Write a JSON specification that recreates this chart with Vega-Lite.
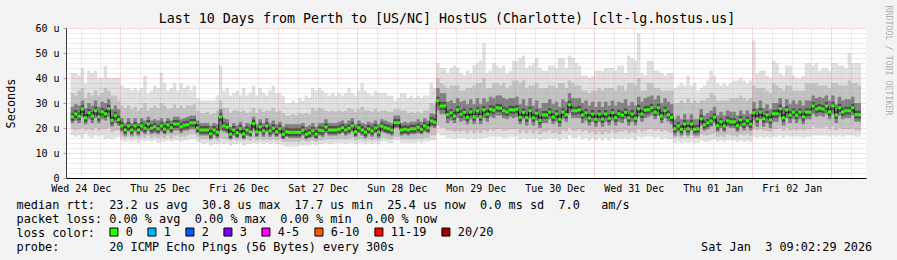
{
  "$schema": "https://vega.github.io/schema/vega-lite/v6.json",
  "width": 800,
  "height": 150,
  "autosize": {"type": "none"},
  "padding": {"left": 66, "top": 28, "right": 31, "bottom": 82},
  "background": "#f3f3f3",
  "title": {
    "text": "Last 10 Days from Perth to [US/NC] HostUS (Charlotte) [clt-lg.hostus.us]",
    "font": "DejaVu Sans Mono", "fontSize": 13.3, "fontWeight": "normal", "color": "#000000",
    "anchor": "middle", "frame": "group", "dx": -19, "dy": 25, "offset": 5
  },
  "config": {
    "view": {"fill": "#ffffff", "stroke": null},
    "axis": {"labelFont": "DejaVu Sans Mono", "titleFont": "DejaVu Sans Mono", "labelColor": "#000000", "titleColor": "#000000", "titleFontWeight": "normal"}
  },
  "data": {"values": [
    {"h":9.5,"m":24.5,"a":17,"b":19.5,"c":22,"d":28.5,"e":34,"f":42},
    {"h":10.5,"m":25.6,"a":16.5,"b":19,"c":23,"d":29.5,"e":33,"f":42},
    {"h":11.5,"m":24.7,"a":17,"b":19.5,"c":22,"d":29,"e":35,"f":41},
    {"h":12.5,"m":27.6,"a":16,"b":20,"c":24.5,"d":31,"e":36,"f":44},
    {"h":13.5,"m":24.1,"a":17.5,"b":19,"c":21.5,"d":28,"e":32,"f":38},
    {"h":14.5,"m":26.1,"a":16.5,"b":19.5,"c":23.5,"d":30,"e":34,"f":43},
    {"h":15.5,"m":24.8,"a":16,"b":19,"c":22,"d":29,"e":33,"f":42},
    {"h":16.5,"m":26.9,"a":17,"b":20,"c":24,"d":31,"e":35,"f":43},
    {"h":17.5,"m":24.5,"a":16.5,"b":19,"c":22,"d":28.5,"e":33,"f":40},
    {"h":18.5,"m":26.5,"a":17,"b":19.5,"c":23.5,"d":30.5,"e":34,"f":40},
    {"h":19.5,"m":25.7,"a":15.5,"b":19.5,"c":23,"d":30,"e":36,"f":45},
    {"h":20.5,"m":27.7,"a":16,"b":20,"c":24.5,"d":31.5,"e":35,"f":40},
    {"h":21.5,"m":23.0,"a":15.5,"b":18.5,"c":20.5,"d":27.5,"e":33,"f":40},
    {"h":22.5,"m":24.9,"a":16,"b":19,"c":22,"d":29,"e":33,"f":40},
    {"h":23.5,"m":23.3,"a":16.5,"b":19,"c":21,"d":27.5,"e":31,"f":40},
    {"h":24.5,"m":20.8,"a":15,"b":16.5,"c":18.5,"d":24,"e":29,"f":37},
    {"h":25.5,"m":19.2,"a":14.5,"b":16,"c":17,"d":22,"e":28,"f":36},
    {"h":26.5,"m":20.8,"a":15,"b":16.5,"c":18.5,"d":24,"e":29,"f":36},
    {"h":27.5,"m":19.2,"a":14.5,"b":16,"c":17,"d":22,"e":27.5,"f":35},
    {"h":28.5,"m":20.8,"a":15,"b":16.5,"c":18.5,"d":24,"e":28.5,"f":36},
    {"h":29.5,"m":19.2,"a":14,"b":16,"c":17,"d":22,"e":27,"f":35},
    {"h":30.5,"m":20.8,"a":15,"b":16.5,"c":18.5,"d":24,"e":28,"f":36},
    {"h":31.5,"m":19.9,"a":14.5,"b":16,"c":17.5,"d":23,"e":30,"f":41},
    {"h":32.5,"m":21.6,"a":15,"b":17,"c":19,"d":24.5,"e":27,"f":34},
    {"h":33.5,"m":19.9,"a":14.5,"b":16,"c":17.5,"d":23,"e":28,"f":35},
    {"h":34.5,"m":20.5,"a":15,"b":16.5,"c":18,"d":23.5,"e":29,"f":37},
    {"h":35.5,"m":19.7,"a":14,"b":16,"c":17.5,"d":23,"e":28,"f":36},
    {"h":36.5,"m":20.8,"a":14.5,"b":16.5,"c":18.5,"d":24,"e":30,"f":42},
    {"h":37.5,"m":19.6,"a":14.5,"b":16,"c":17.5,"d":22.5,"e":29,"f":38},
    {"h":38.5,"m":21.2,"a":15,"b":17,"c":19,"d":24,"e":27.5,"f":35},
    {"h":39.5,"m":20.1,"a":14.5,"b":16,"c":18,"d":23,"e":28,"f":36},
    {"h":40.5,"m":21.6,"a":15,"b":17,"c":19,"d":24.5,"e":29.5,"f":38},
    {"h":41.5,"m":21.6,"a":15,"b":17,"c":19,"d":24.5,"e":28,"f":35},
    {"h":42.5,"m":20.5,"a":14.5,"b":16.5,"c":18,"d":23.5,"e":29,"f":38},
    {"h":43.5,"m":21.1,"a":15,"b":16.5,"c":19,"d":24,"e":28,"f":36},
    {"h":44.5,"m":21.3,"a":15,"b":17,"c":19,"d":24.5,"e":29,"f":37},
    {"h":45.5,"m":22.1,"a":15.5,"b":17.5,"c":19.5,"d":25,"e":29,"f":35},
    {"h":46.5,"m":22.1,"a":15.5,"b":17.5,"c":19.5,"d":25,"e":29.5,"f":37},
    {"h":47.5,"m":20.0,"a":14.5,"b":16.5,"c":18,"d":23,"e":27,"f":32},
    {"h":48.5,"m":19.2,"a":14,"b":15.5,"c":17,"d":22,"e":26,"f":31},
    {"h":49.5,"m":19.2,"a":13.5,"b":15.5,"c":17,"d":22,"e":26,"f":31},
    {"h":50.5,"m":19.2,"a":14,"b":15.5,"c":17,"d":22,"e":26.5,"f":31},
    {"h":51.5,"m":17.7,"a":13,"b":15,"c":15.5,"d":21,"e":25.5,"f":31},
    {"h":52.5,"m":19.2,"a":13.5,"b":15.5,"c":17,"d":22,"e":26,"f":31},
    {"h":53.5,"m":18.4,"a":13.5,"b":15,"c":16,"d":21.5,"e":27,"f":33},
    {"h":54.5,"m":24.5,"a":14,"b":16,"c":19,"d":27.5,"e":31,"f":45},
    {"h":55.5,"m":20.8,"a":13.5,"b":15.5,"c":18.5,"d":24,"e":28,"f":35},
    {"h":56.5,"m":20.3,"a":14,"b":15.5,"c":18,"d":23.5,"e":28,"f":36},
    {"h":57.5,"m":17.5,"a":13,"b":15,"c":15.5,"d":20.5,"e":26,"f":33},
    {"h":58.5,"m":19.2,"a":13.5,"b":15.5,"c":17,"d":22,"e":27,"f":34},
    {"h":59.5,"m":18.1,"a":13.5,"b":15,"c":16,"d":21,"e":27,"f":35},
    {"h":60.5,"m":19.7,"a":14,"b":15.5,"c":17.5,"d":22.5,"e":26.5,"f":33},
    {"h":61.5,"m":17.6,"a":13,"b":15,"c":15.5,"d":20.5,"e":27,"f":36},
    {"h":62.5,"m":19.1,"a":13.5,"b":15.5,"c":17,"d":22,"e":26,"f":33},
    {"h":63.5,"m":18.5,"a":13.5,"b":15,"c":16.5,"d":21.5,"e":26.5,"f":34},
    {"h":64.5,"m":21.7,"a":14,"b":16,"c":19.5,"d":24.5,"e":28,"f":37},
    {"h":65.5,"m":18.5,"a":13.5,"b":15,"c":16.5,"d":21.5,"e":26,"f":33},
    {"h":66.5,"m":20.5,"a":14,"b":15.5,"c":18.5,"d":23.5,"e":27.5,"f":36},
    {"h":67.5,"m":18.9,"a":13.5,"b":15,"c":16.5,"d":22,"e":26.5,"f":34},
    {"h":68.5,"m":20.8,"a":14,"b":15.5,"c":18.5,"d":24,"e":27,"f":33},
    {"h":69.5,"m":18.9,"a":13.5,"b":15,"c":16.5,"d":22,"e":27,"f":35},
    {"h":70.5,"m":19.9,"a":14,"b":15.5,"c":17.5,"d":23,"e":28,"f":37},
    {"h":71.5,"m":18.5,"a":13.5,"b":15,"c":16.5,"d":21.5,"e":26.5,"f":34},
    {"h":72.5,"m":19.7,"a":13.5,"b":15.5,"c":17.5,"d":22.5,"e":27,"f":34},
    {"h":73.5,"m":17.5,"a":13,"b":14.5,"c":15.5,"d":20.5,"e":26,"f":33},
    {"h":74.5,"m":18.5,"a":12.5,"b":14.5,"c":16.5,"d":21.5,"e":25,"f":30},
    {"h":75.5,"m":18.3,"a":12.5,"b":14.5,"c":16,"d":21.5,"e":25,"f":30},
    {"h":76.5,"m":18.3,"a":12.5,"b":14.5,"c":16,"d":21.5,"e":25.5,"f":31},
    {"h":77.5,"m":18.3,"a":12.5,"b":14.5,"c":16,"d":21.5,"e":25,"f":30},
    {"h":78.5,"m":18.3,"a":13,"b":14.5,"c":16,"d":21.5,"e":26,"f":32},
    {"h":79.5,"m":19.1,"a":13,"b":15,"c":17,"d":22,"e":25.5,"f":31},
    {"h":80.5,"m":17.5,"a":13,"b":14.5,"c":15.5,"d":20.5,"e":26,"f":33},
    {"h":81.5,"m":18.0,"a":13,"b":14.5,"c":16,"d":21,"e":25.5,"f":32},
    {"h":82.5,"m":18.9,"a":13.5,"b":15,"c":16.5,"d":22,"e":28,"f":36},
    {"h":83.5,"m":17.6,"a":13,"b":14.5,"c":15.5,"d":20.5,"e":27,"f":35},
    {"h":84.5,"m":19.1,"a":13.5,"b":15,"c":17,"d":22,"e":28,"f":36},
    {"h":85.5,"m":18.9,"a":13.5,"b":15,"c":16.5,"d":22,"e":27.5,"f":35},
    {"h":86.5,"m":20.4,"a":14,"b":15.5,"c":18,"d":23.5,"e":27,"f":34},
    {"h":87.5,"m":19.2,"a":13.5,"b":15.5,"c":17,"d":22,"e":26.5,"f":33},
    {"h":88.5,"m":19.2,"a":13.5,"b":15.5,"c":17,"d":22,"e":27,"f":34},
    {"h":89.5,"m":19.2,"a":14,"b":15.5,"c":17,"d":22,"e":26.5,"f":33},
    {"h":90.5,"m":19.5,"a":14,"b":15.5,"c":17.5,"d":22.5,"e":27,"f":34},
    {"h":91.5,"m":20.1,"a":14,"b":15.5,"c":18,"d":23,"e":26.5,"f":33},
    {"h":92.5,"m":19.2,"a":13.5,"b":15.5,"c":17,"d":22,"e":27,"f":34},
    {"h":93.5,"m":19.9,"a":14,"b":15.5,"c":17.5,"d":23,"e":28,"f":36},
    {"h":94.5,"m":20.8,"a":14,"b":16,"c":18.5,"d":24,"e":27.5,"f":34},
    {"h":95.5,"m":18.5,"a":13.5,"b":15,"c":16.5,"d":21.5,"e":26.5,"f":33},
    {"h":96.5,"m":20.1,"a":14,"b":15.5,"c":18,"d":23,"e":27.5,"f":35},
    {"h":97.5,"m":19.2,"a":14,"b":15.5,"c":17,"d":22,"e":28.5,"f":38},
    {"h":98.5,"m":18.4,"a":13.5,"b":15,"c":16,"d":21.5,"e":27,"f":35},
    {"h":99.5,"m":19.6,"a":14,"b":15.5,"c":17.5,"d":22.5,"e":27,"f":34},
    {"h":100.5,"m":18.9,"a":13.5,"b":15,"c":16.5,"d":22,"e":26.5,"f":33},
    {"h":101.5,"m":20.0,"a":14,"b":15.5,"c":18,"d":23,"e":27.5,"f":35},
    {"h":102.5,"m":18.4,"a":13.5,"b":15,"c":16,"d":21.5,"e":26.5,"f":34},
    {"h":103.5,"m":20.7,"a":14.5,"b":16,"c":18.5,"d":23.5,"e":27,"f":34},
    {"h":104.5,"m":20.1,"a":14.5,"b":16,"c":18,"d":23,"e":27,"f":34},
    {"h":105.5,"m":19.7,"a":14,"b":15.5,"c":17.5,"d":22.5,"e":26.5,"f":33},
    {"h":106.5,"m":19.2,"a":14,"b":15.5,"c":17,"d":22,"e":26.5,"f":33},
    {"h":107.5,"m":22.1,"a":15,"b":16.5,"c":20,"d":25,"e":27.5,"f":31},
    {"h":108.5,"m":22.1,"a":15,"b":16.5,"c":20,"d":25,"e":27.5,"f":32},
    {"h":109.5,"m":19.2,"a":14,"b":15.5,"c":17,"d":22,"e":27,"f":34},
    {"h":110.5,"m":19.5,"a":14,"b":15.5,"c":17.5,"d":22.5,"e":27,"f":34},
    {"h":111.5,"m":19.2,"a":14,"b":15.5,"c":17,"d":22,"e":26,"f":32},
    {"h":112.5,"m":19.7,"a":14,"b":15.5,"c":17.5,"d":22.5,"e":26.5,"f":33},
    {"h":113.5,"m":19.7,"a":14,"b":15.5,"c":17.5,"d":22.5,"e":26,"f":32},
    {"h":114.5,"m":20.3,"a":14.5,"b":16,"c":18,"d":23.5,"e":26.5,"f":33},
    {"h":115.5,"m":19.5,"a":14,"b":15.5,"c":17.5,"d":22.5,"e":26,"f":32},
    {"h":116.5,"m":20.8,"a":14.5,"b":16,"c":18.5,"d":24,"e":27,"f":33},
    {"h":117.5,"m":20.1,"a":14.5,"b":16,"c":18,"d":23,"e":27,"f":33},
    {"h":118.5,"m":22.8,"a":15,"b":17,"c":20.5,"d":26,"e":30,"f":38},
    {"h":119.5,"m":22.4,"a":15,"b":17,"c":20,"d":25.5,"e":29.5,"f":36},
    {"h":120.5,"m":30.9,"a":18,"b":21,"c":27,"d":36,"e":40,"f":46},
    {"h":121.5,"m":28.8,"a":17,"b":20,"c":25.5,"d":34,"e":38,"f":44},
    {"h":122.5,"m":28.8,"a":17,"b":20,"c":25.5,"d":34,"e":37,"f":44},
    {"h":123.5,"m":25.3,"a":16,"b":19,"c":22,"d":30.5,"e":36,"f":42},
    {"h":124.5,"m":26.1,"a":16,"b":19,"c":23,"d":31,"e":37,"f":44},
    {"h":125.5,"m":24.8,"a":15.5,"b":18.5,"c":22,"d":30,"e":37,"f":45},
    {"h":126.5,"m":27.2,"a":16,"b":19,"c":24,"d":32,"e":37,"f":44},
    {"h":127.5,"m":25.5,"a":16,"b":18.5,"c":22.5,"d":30.5,"e":35,"f":42},
    {"h":128.5,"m":26.3,"a":16,"b":19,"c":23,"d":31,"e":35,"f":41},
    {"h":129.5,"m":24.3,"a":15.5,"b":18,"c":21.5,"d":29.5,"e":36,"f":43},
    {"h":130.5,"m":26.5,"a":16,"b":19,"c":23.5,"d":31.5,"e":36,"f":42},
    {"h":131.5,"m":24.5,"a":15.5,"b":18,"c":21.5,"d":29.5,"e":37,"f":45},
    {"h":132.5,"m":26.8,"a":16,"b":19,"c":24,"d":32,"e":38,"f":46},
    {"h":133.5,"m":24.5,"a":15.5,"b":18,"c":21.5,"d":29.5,"e":38,"f":47},
    {"h":134.5,"m":27.2,"a":16,"b":19,"c":24,"d":32,"e":40,"f":54},
    {"h":135.5,"m":25.6,"a":16,"b":18.5,"c":22.5,"d":30.5,"e":36,"f":42},
    {"h":136.5,"m":27.5,"a":16.5,"b":19.5,"c":24.5,"d":32.5,"e":36,"f":43},
    {"h":137.5,"m":27.1,"a":16.5,"b":19,"c":24,"d":32,"e":38,"f":46},
    {"h":138.5,"m":28.1,"a":16.5,"b":19.5,"c":25,"d":33,"e":38,"f":45},
    {"h":139.5,"m":27.9,"a":16.5,"b":19.5,"c":25,"d":33,"e":37,"f":44},
    {"h":140.5,"m":26.9,"a":16,"b":19,"c":24,"d":32,"e":38,"f":45},
    {"h":141.5,"m":26.5,"a":16,"b":19,"c":23.5,"d":31.5,"e":36,"f":42},
    {"h":142.5,"m":27.3,"a":16.5,"b":19.5,"c":24.5,"d":32,"e":37,"f":43},
    {"h":143.5,"m":27.2,"a":16.5,"b":19.5,"c":24,"d":32,"e":39,"f":47},
    {"h":144.5,"m":27.5,"a":16.5,"b":19.5,"c":24.5,"d":32.5,"e":39,"f":47},
    {"h":145.5,"m":24.3,"a":15.5,"b":18,"c":21.5,"d":29.5,"e":38,"f":48},
    {"h":146.5,"m":26.3,"a":16,"b":19,"c":23.5,"d":31.5,"e":39,"f":49},
    {"h":147.5,"m":24.1,"a":15.5,"b":18,"c":21,"d":29,"e":36,"f":44},
    {"h":148.5,"m":26.9,"a":16,"b":19,"c":24,"d":32,"e":37,"f":45},
    {"h":149.5,"m":24.1,"a":15.5,"b":18,"c":21,"d":29,"e":37,"f":46},
    {"h":150.5,"m":25.9,"a":16,"b":19,"c":23,"d":31,"e":38,"f":48},
    {"h":151.5,"m":23.0,"a":15,"b":17.5,"c":20,"d":28,"e":36,"f":44},
    {"h":152.5,"m":25.2,"a":15.5,"b":18.5,"c":22,"d":30,"e":36,"f":43},
    {"h":153.5,"m":25.2,"a":15.5,"b":18.5,"c":22,"d":30,"e":36,"f":43},
    {"h":154.5,"m":26.4,"a":16,"b":19,"c":23.5,"d":31.5,"e":37,"f":45},
    {"h":155.5,"m":24.4,"a":15.5,"b":18,"c":21.5,"d":29.5,"e":37,"f":45},
    {"h":156.5,"m":25.6,"a":16,"b":18.5,"c":22.5,"d":30.5,"e":36,"f":44},
    {"h":157.5,"m":23.5,"a":15,"b":17.5,"c":20.5,"d":28.5,"e":38,"f":48},
    {"h":158.5,"m":26.4,"a":16,"b":19,"c":23.5,"d":31.5,"e":38,"f":48},
    {"h":159.5,"m":25.3,"a":15.5,"b":18.5,"c":22.5,"d":30.5,"e":36,"f":44},
    {"h":160.5,"m":29.3,"a":17,"b":20,"c":26,"d":34,"e":39,"f":49},
    {"h":161.5,"m":26.9,"a":16,"b":19,"c":24,"d":32,"e":38,"f":48},
    {"h":162.5,"m":26.9,"a":16,"b":19,"c":24,"d":32,"e":37,"f":46},
    {"h":163.5,"m":27.2,"a":16.5,"b":19.5,"c":24,"d":32,"e":37,"f":45},
    {"h":164.5,"m":25.2,"a":15.5,"b":18.5,"c":22,"d":30,"e":35,"f":41},
    {"h":165.5,"m":26.1,"a":16,"b":19,"c":23,"d":31,"e":35,"f":41},
    {"h":166.5,"m":24.0,"a":15,"b":18,"c":21,"d":29,"e":34,"f":40},
    {"h":167.5,"m":25.6,"a":16,"b":18.5,"c":22.5,"d":30.5,"e":35,"f":41},
    {"h":168.5,"m":23.5,"a":15,"b":17.5,"c":20.5,"d":28.5,"e":35,"f":43},
    {"h":169.5,"m":25.6,"a":16,"b":18.5,"c":22.5,"d":30.5,"e":36,"f":43},
    {"h":170.5,"m":23.6,"a":15,"b":17.5,"c":20.5,"d":28.5,"e":35,"f":43},
    {"h":171.5,"m":25.6,"a":16,"b":18.5,"c":22.5,"d":30.5,"e":36,"f":44},
    {"h":172.5,"m":23.9,"a":15,"b":18,"c":21,"d":29,"e":36,"f":44},
    {"h":173.5,"m":26.1,"a":16,"b":19,"c":23,"d":31,"e":36,"f":44},
    {"h":174.5,"m":24.1,"a":15.5,"b":18,"c":21,"d":29,"e":35,"f":43},
    {"h":175.5,"m":25.7,"a":16,"b":18.5,"c":22.5,"d":30.5,"e":37,"f":45},
    {"h":176.5,"m":25.1,"a":15.5,"b":18.5,"c":22,"d":30,"e":37,"f":45},
    {"h":177.5,"m":26.3,"a":16,"b":19,"c":23.5,"d":31.5,"e":35,"f":42},
    {"h":178.5,"m":24.1,"a":15.5,"b":18,"c":21,"d":29,"e":38,"f":49},
    {"h":179.5,"m":25.6,"a":16,"b":18.5,"c":22.5,"d":30.5,"e":38,"f":48},
    {"h":180.5,"m":23.9,"a":15,"b":18,"c":21,"d":29,"e":37,"f":47},
    {"h":181.5,"m":27.7,"a":16.5,"b":19.5,"c":24.5,"d":32.5,"e":40,"f":58},
    {"h":182.5,"m":25.6,"a":16,"b":18.5,"c":22.5,"d":30.5,"e":35,"f":42},
    {"h":183.5,"m":27.1,"a":16.5,"b":19,"c":24,"d":32,"e":35,"f":41},
    {"h":184.5,"m":27.3,"a":16.5,"b":19.5,"c":24.5,"d":32.5,"e":38,"f":47},
    {"h":185.5,"m":28.1,"a":16.5,"b":19.5,"c":25,"d":33,"e":38,"f":47},
    {"h":186.5,"m":26.4,"a":16,"b":19,"c":23.5,"d":31.5,"e":36,"f":43},
    {"h":187.5,"m":28.1,"a":16.5,"b":19.5,"c":25,"d":33,"e":36,"f":43},
    {"h":188.5,"m":24.8,"a":15.5,"b":18.5,"c":22,"d":30,"e":35,"f":42},
    {"h":189.5,"m":26.9,"a":16,"b":19,"c":24,"d":32,"e":35,"f":41},
    {"h":190.5,"m":25.3,"a":15.5,"b":18.5,"c":22.5,"d":30.5,"e":35,"f":42},
    {"h":191.5,"m":24.3,"a":15.5,"b":18,"c":21.5,"d":29.5,"e":35,"f":42},
    {"h":192.5,"m":19.7,"a":14,"b":16,"c":17,"d":23.5,"e":30,"f":36},
    {"h":193.5,"m":20.8,"a":14.5,"b":16.5,"c":18.5,"d":25,"e":30,"f":37},
    {"h":194.5,"m":19.5,"a":14,"b":16,"c":17,"d":23.5,"e":31,"f":38},
    {"h":195.5,"m":21.6,"a":14.5,"b":17,"c":19,"d":25.5,"e":30,"f":37},
    {"h":196.5,"m":19.7,"a":14,"b":16,"c":17,"d":23.5,"e":32,"f":41},
    {"h":197.5,"m":21.6,"a":14.5,"b":17,"c":19,"d":25.5,"e":30,"f":37},
    {"h":198.5,"m":19.5,"a":14,"b":16,"c":17,"d":23.5,"e":31,"f":38},
    {"h":199.5,"m":19.7,"a":14,"b":16,"c":17,"d":23.5,"e":30,"f":35},
    {"h":200.5,"m":23.7,"a":15,"b":17.5,"c":21,"d":27.5,"e":31,"f":36},
    {"h":201.5,"m":21.3,"a":14.5,"b":17,"c":19,"d":25,"e":31,"f":37},
    {"h":202.5,"m":22.1,"a":14.5,"b":17,"c":19.5,"d":26,"e":32,"f":39},
    {"h":203.5,"m":22.8,"a":15,"b":17.5,"c":20.5,"d":27,"e":34,"f":43},
    {"h":204.5,"m":24.3,"a":15.5,"b":18,"c":22,"d":28.5,"e":33,"f":41},
    {"h":205.5,"m":20.9,"a":14.5,"b":16.5,"c":18.5,"d":25,"e":31,"f":38},
    {"h":206.5,"m":22.5,"a":15,"b":17,"c":20,"d":26.5,"e":31,"f":37},
    {"h":207.5,"m":20.8,"a":14.5,"b":16.5,"c":18.5,"d":25,"e":31,"f":38},
    {"h":208.5,"m":22.9,"a":15,"b":17.5,"c":20.5,"d":27,"e":31,"f":37},
    {"h":209.5,"m":22.5,"a":15,"b":17,"c":20,"d":26.5,"e":32,"f":38},
    {"h":210.5,"m":22.5,"a":15,"b":17,"c":20,"d":26.5,"e":32,"f":39},
    {"h":211.5,"m":20.9,"a":14.5,"b":16.5,"c":18.5,"d":25,"e":32,"f":39},
    {"h":212.5,"m":23.2,"a":15,"b":17.5,"c":20.5,"d":27,"e":33,"f":40},
    {"h":213.5,"m":21.6,"a":14.5,"b":17,"c":19,"d":25.5,"e":32,"f":39},
    {"h":214.5,"m":22.9,"a":15,"b":17.5,"c":20.5,"d":27,"e":31,"f":38},
    {"h":215.5,"m":21.6,"a":14.5,"b":17,"c":19,"d":25.5,"e":32,"f":39},
    {"h":216.5,"m":26.1,"a":16.5,"b":19.5,"c":23,"d":30.5,"e":37,"f":55},
    {"h":217.5,"m":23.7,"a":16,"b":19,"c":20.5,"d":28,"e":36,"f":42},
    {"h":218.5,"m":26.4,"a":16.5,"b":19.5,"c":23.5,"d":31,"e":36,"f":43},
    {"h":219.5,"m":23.7,"a":16,"b":19,"c":20.5,"d":28,"e":36,"f":43},
    {"h":220.5,"m":25.2,"a":16.5,"b":19,"c":22,"d":29.5,"e":35,"f":41},
    {"h":221.5,"m":23.2,"a":16,"b":18.5,"c":20,"d":27.5,"e":34,"f":40},
    {"h":222.5,"m":25.7,"a":16.5,"b":19.5,"c":22.5,"d":30,"e":38,"f":47},
    {"h":223.5,"m":25.7,"a":16.5,"b":19.5,"c":22.5,"d":30,"e":37,"f":46},
    {"h":224.5,"m":27.7,"a":17,"b":20,"c":24.5,"d":32,"e":36,"f":42},
    {"h":225.5,"m":24.1,"a":16,"b":19,"c":21,"d":28.5,"e":35,"f":41},
    {"h":226.5,"m":27.2,"a":17,"b":20,"c":24,"d":31.5,"e":37,"f":45},
    {"h":227.5,"m":25.2,"a":16.5,"b":19,"c":22,"d":29.5,"e":37,"f":45},
    {"h":228.5,"m":26.4,"a":16.5,"b":19.5,"c":23.5,"d":31,"e":35,"f":41},
    {"h":229.5,"m":25.1,"a":16.5,"b":19,"c":22,"d":29.5,"e":35,"f":40},
    {"h":230.5,"m":26.4,"a":16.5,"b":19.5,"c":23.5,"d":31,"e":35,"f":40},
    {"h":231.5,"m":24.5,"a":16,"b":19,"c":21.5,"d":29,"e":35,"f":41},
    {"h":232.5,"m":26.4,"a":16.5,"b":19.5,"c":23.5,"d":31,"e":38,"f":46},
    {"h":233.5,"m":26.4,"a":16.5,"b":19.5,"c":23.5,"d":31,"e":38,"f":46},
    {"h":234.5,"m":28.8,"a":17,"b":20.5,"c":25.5,"d":33,"e":38,"f":45},
    {"h":235.5,"m":27.6,"a":17,"b":20,"c":24.5,"d":32,"e":38,"f":46},
    {"h":236.5,"m":28.0,"a":17,"b":20,"c":25,"d":32.5,"e":37,"f":43},
    {"h":237.5,"m":27.6,"a":17,"b":20,"c":24.5,"d":32,"e":37,"f":44},
    {"h":238.5,"m":28.8,"a":17,"b":20.5,"c":25.5,"d":33,"e":37,"f":44},
    {"h":239.5,"m":26.5,"a":16.5,"b":19.5,"c":23.5,"d":31,"e":36,"f":43},
    {"h":240.5,"m":28.8,"a":17,"b":20.5,"c":25.5,"d":33,"e":38,"f":46},
    {"h":241.5,"m":25.2,"a":16.5,"b":19,"c":22,"d":29.5,"e":38,"f":46},
    {"h":242.5,"m":28.1,"a":17,"b":20,"c":25,"d":32.5,"e":37,"f":45},
    {"h":243.5,"m":26.5,"a":16.5,"b":19.5,"c":23.5,"d":31,"e":37,"f":45},
    {"h":244.5,"m":26.9,"a":17,"b":19.5,"c":24,"d":31.5,"e":37,"f":44},
    {"h":245.5,"m":26.9,"a":17,"b":19.5,"c":24,"d":31.5,"e":39,"f":50},
    {"h":246.5,"m":28.1,"a":17,"b":20,"c":25,"d":32.5,"e":38,"f":46},
    {"h":247.5,"m":25.3,"a":16.5,"b":19,"c":22.5,"d":30,"e":38,"f":46},
    {"h":248.5,"m":25.3,"a":16.5,"b":19,"c":22.5,"d":30,"e":37,"f":46}
  ]},
  "layer": [
    {
      "mark": {"type": "bar", "width": 3.5, "color": "#e0e0e0", "clip": true},
      "encoding": {
        "x": {"field": "h", "type": "quantitative", "scale": {"domain": [9.04, 249.04], "nice": false, "zero": false},
          "axis": {"orient": "bottom", "values": [12,18,30,36,42,54,60,66,78,84,90,102,108,114,126,132,138,150,156,162,174,180,186,198,204,210,222,228,234,246],
            "grid": true, "gridColor": "#a0a0a0", "gridDash": [1, 1], "gridOpacity": 0.4, "labels": false, "ticks": false, "domain": false, "title": null, "zindex": 1}},
        "y": {"field": "a", "type": "quantitative", "scale": {"domain": [0, 60], "nice": false, "zero": true},
          "axis": {"orient": "left", "values": [2,4,6,8,12,14,16,18,22,24,26,28,32,34,36,38,42,44,46,48,52,54,56,58],
            "grid": true, "gridColor": "#a0a0a0", "gridDash": [1, 1], "gridOpacity": 0.4, "labels": false, "ticks": false, "domain": false, "title": null, "zindex": 1}},
        "y2": {"field": "f"}
      }
    },
    {
      "mark": {"type": "bar", "width": 3.5, "color": "#c2c2c2", "clip": true},
      "encoding": {
        "x": {"field": "h", "type": "quantitative", "scale": {"domain": [9.04, 249.04], "nice": false, "zero": false},
          "axis": {"orient": "bottom", "values": [24,48,72,96,120,144,168,192,216,240],
            "grid": true, "gridColor": "#e06060", "gridDash": [1, 1], "gridOpacity": 0.45, "labels": false, "ticks": false, "domain": false, "title": null, "zindex": 1}},
        "y": {"field": "b", "type": "quantitative", "scale": {"domain": [0, 60], "nice": false, "zero": true},
          "axis": {"orient": "left", "values": [0,10,20,30,40,50,60],
            "grid": true, "gridColor": "#e06060", "gridDash": [1, 1], "gridOpacity": 0.45,
            "labels": true, "labelExpr": "datum.value == 0 ? '0' : datum.value + ' u'", "labelFontSize": 10, "labelPadding": 4,
            "ticks": true, "tickSize": 3, "tickColor": "#a0a0a0",
            "domain": true, "domainColor": "#404040",
            "title": "Seconds", "titleFontSize": 11.85, "titleX": -56, "titleY": 75, "titleAngle": 270, "titleAlign": "center", "titleBaseline": "middle",
            "zindex": 1}},
        "y2": {"field": "e"}
      }
    },
    {
      "mark": {"type": "bar", "width": 3.5, "color": "#808080", "clip": true},
      "encoding": {
        "x": {"field": "h", "type": "quantitative", "scale": {"domain": [9.04, 249.04], "nice": false, "zero": false},
          "axis": {"orient": "bottom", "values": [12,36,60,84,108,132,156,180,204,228],
            "labelExpr": "['Wed 24 Dec','Thu 25 Dec','Fri 26 Dec','Sat 27 Dec','Sun 28 Dec','Mon 29 Dec','Tue 30 Dec','Wed 31 Dec','Thu 01 Jan','Fri 02 Jan'][floor(datum.value / 24)]",
            "labelFontSize": 10, "labelPadding": 5, "labelFlush": false, "labelOverlap": false, "labelBound": false,
            "grid": false, "ticks": false, "tickSize": 0, "domain": true, "domainColor": "#000000",
            "title": [
              "median rtt:\u00a0\u00a023.2 us avg\u00a0\u00a030.8 us max\u00a0\u00a017.7 us min\u00a0\u00a025.4 us now\u00a0\u00a00.0 ms sd\u00a0\u00a07.0\u00a0\u00a0\u00a0am/s",
              "packet loss: 0.00 % avg\u00a0\u00a00.00 % max\u00a0\u00a00.00 % min\u00a0\u00a00.00 % now",
              "loss color:",
              "probe:\u00a0\u00a0\u00a0\u00a0\u00a0\u00a0\u00a020 ICMP Echo Pings (56 Bytes) every 300s\u00a0\u00a0\u00a0\u00a0\u00a0\u00a0\u00a0\u00a0\u00a0\u00a0\u00a0\u00a0\u00a0\u00a0\u00a0\u00a0\u00a0\u00a0\u00a0\u00a0\u00a0\u00a0\u00a0\u00a0\u00a0\u00a0\u00a0\u00a0\u00a0\u00a0\u00a0\u00a0\u00a0\u00a0\u00a0\u00a0\u00a0\u00a0\u00a0\u00a0\u00a0\u00a0\u00a0Sat Jan\u00a0\u00a03 09:02:29 2026"
            ],
            "titleFontSize": 11.85, "titleLineHeight": 14, "titleAnchor": "start", "titleAlign": "left", "titleBaseline": "alphabetic",
            "titleX": -50, "titleY": 30, "zindex": 1}},
        "y": {"field": "c", "type": "quantitative", "scale": {"domain": [0, 60], "nice": false, "zero": true},
          "axis": {"orient": "right", "labels": false, "ticks": false, "domain": false, "grid": false,
            "title": "RRDTOOL / TOBI OETIKER", "titleAngle": 90, "titleFontSize": 8.3, "titleColor": "#b0b0b0",
            "titleX": 21, "titleY": -23, "titleAlign": "left", "titleBaseline": "middle"}},
        "y2": {"field": "d"}
      }
    },
    {
      "mark": {"type": "tick", "orient": "horizontal", "size": 3.5, "thickness": 8, "color": "#383838", "clip": true},
      "encoding": {
        "x": {"field": "h", "type": "quantitative", "scale": {"domain": [9.04, 249.04], "nice": false, "zero": false}, "axis": null},
        "y": {"field": "m", "type": "quantitative", "scale": {"domain": [0, 60], "nice": false, "zero": true}, "axis": null}
      }
    },
    {
      "mark": {"type": "line", "interpolate": "step", "color": "#000000", "strokeWidth": 1, "clip": true},
      "encoding": {
        "x": {"field": "h", "type": "quantitative", "scale": {"domain": [9.04, 249.04], "nice": false, "zero": false}, "axis": null},
        "y": {"field": "m", "type": "quantitative", "scale": {"domain": [0, 60], "nice": false, "zero": true}, "axis": null}
      }
    },
    {
      "mark": {"type": "tick", "orient": "horizontal", "size": 3.5, "thickness": 3, "clip": true, "opacity": 1},
      "encoding": {
        "x": {"field": "h", "type": "quantitative", "scale": {"domain": [9.04, 249.04], "nice": false, "zero": false}, "axis": null},
        "y": {"field": "m", "type": "quantitative", "scale": {"domain": [0, 60], "nice": false, "zero": true}, "axis": null},
        "color": {"datum": "0", "type": "nominal",
          "scale": {"domain": ["0","1","2","3","4-5","6-10","11-19","20/20"],
                    "range": ["#26ff00","#00b8ff","#0059ff","#7e00ff","#ff00ff","#ff5500","#ff0000","#a10000"]},
          "legend": {"orient": "none", "legendX": 42, "legendY": 198, "direction": "horizontal", "title": null,
            "symbolType": "square", "symbolSize": 64, "symbolStrokeColor": "#000000", "symbolStrokeWidth": 1, "symbolOpacity": 1,
            "labelFont": "DejaVu Sans Mono", "labelFontSize": 11.85, "labelColor": "#000000", "labelOffset": 6, "columnPadding": 12, "labelLimit": 0,
            "encode": {"symbols": {"update": {"stroke": {"value": "#000000"}, "strokeWidth": {"value": 1}, "opacity": {"value": 1}}}}}}
      }
    }
  ],
  "resolve": {"axis": {"x": "independent", "y": "independent"}}
}
